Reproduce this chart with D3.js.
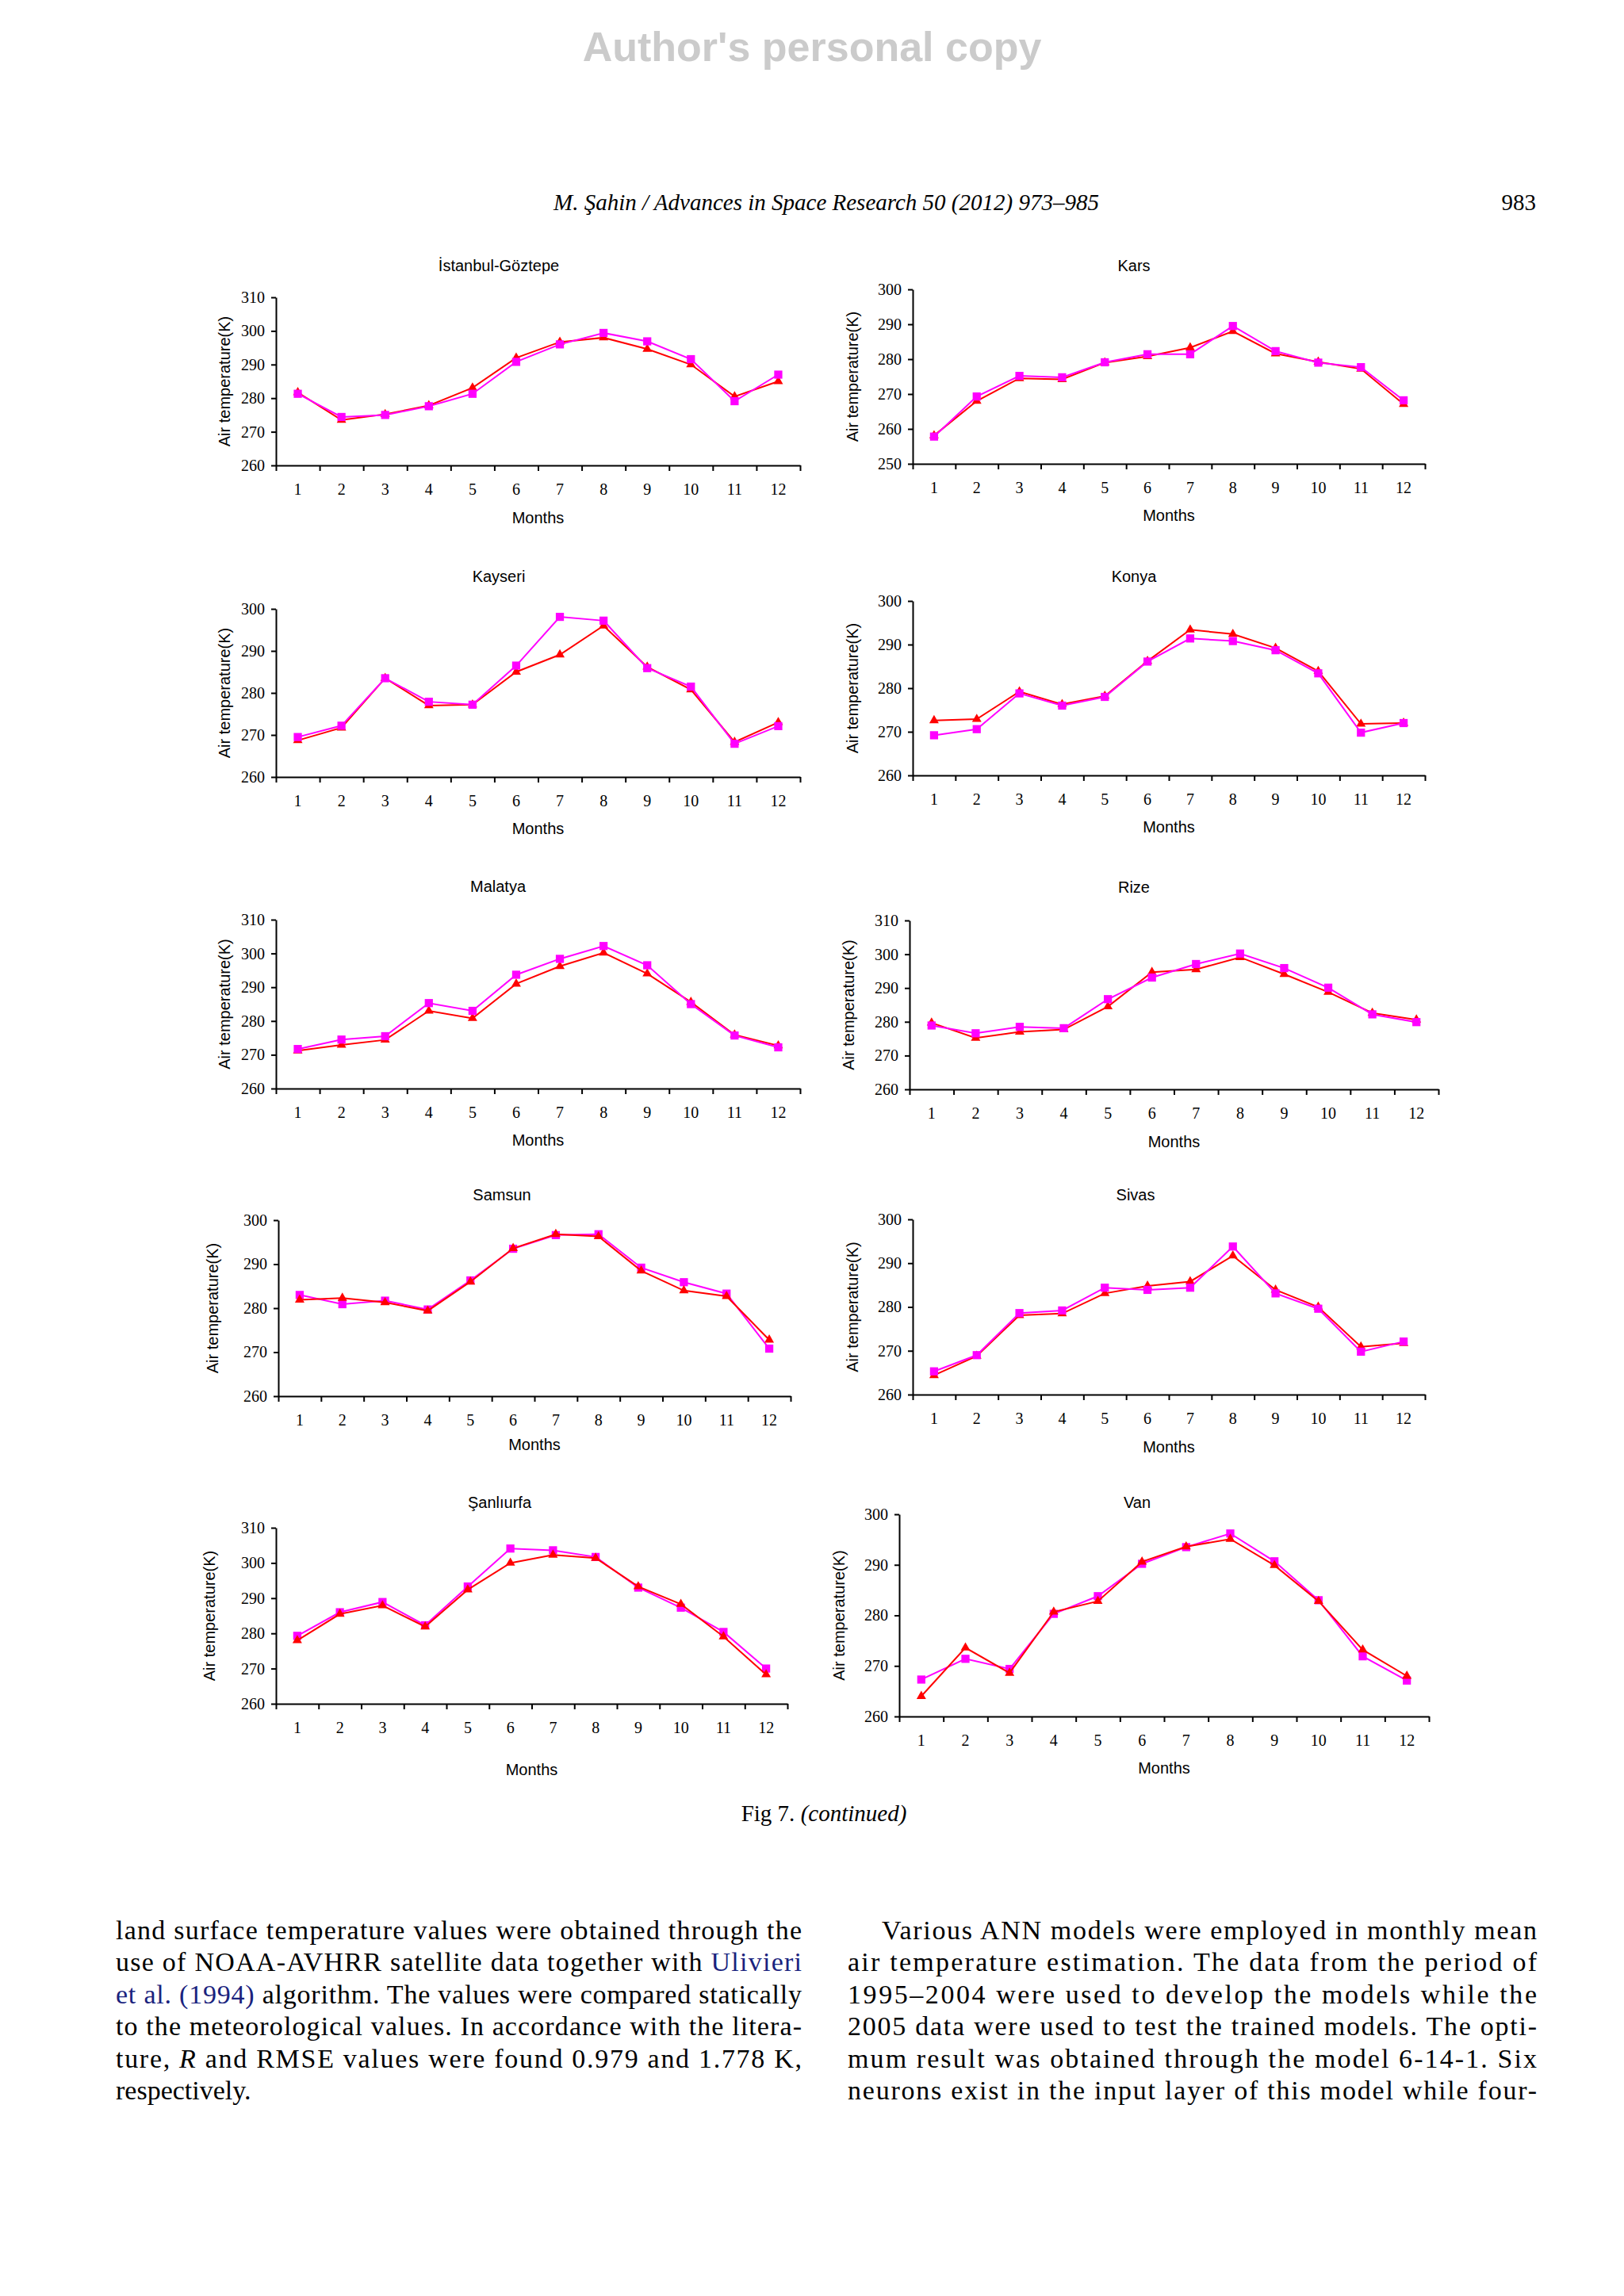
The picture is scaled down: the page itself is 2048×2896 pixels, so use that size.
<!DOCTYPE html>
<html>
<head>
<meta charset="utf-8">
<script src="https://cdn.jsdelivr.net/npm/d3@7"></script>
<style>
  body { margin: 0; background: #fff; }
  .axis path, .axis line { stroke: #000; stroke-width: 2; }
  .axis text { font-family: "Liberation Serif", serif; font-size: 20px; fill: #000; }
  .chartTitle, .axisTitle { font-family: "Liberation Sans", Arial, sans-serif; font-size: 20px; fill: #000; }
  .bodyText { font-family: "Liberation Serif", "Times New Roman", serif; font-size: 34px; fill: #000; }
</style>
</head>
<body>
<script>
//wrap everything in a self-executing anonymous function
(function(){

//months on the x axis
var months = [1, 2, 3, 4, 5, 6, 7, 8, 9, 10, 11, 12];

//station names (panel titles)
var stationNames = ["İstanbul-Göztepe", "Kars", "Kayseri", "Konya", "Malatya",
    "Rize", "Samsun", "Sivas", "Şanlıurfa", "Van"];

//y axis ranges, K
var yDomains = [[260, 310], [250, 300], [260, 300], [260, 300], [260, 310],
    [260, 310], [260, 300], [260, 300], [260, 310], [260, 300]];

//red triangles series
var istanbulRed  = [281.7, 273.5, 275.2, 277.8, 283.1, 292.0, 296.7, 298.0, 294.6, 290.0, 280.5, 285.0];
var karsRed      = [258.1, 268.0, 274.5, 274.2, 279.0, 280.8, 283.3, 288.0, 281.6, 279.2, 277.2, 267.1];
var kayseriRed   = [268.7, 271.7, 283.5, 277.0, 277.2, 285.0, 289.1, 296.0, 286.2, 280.8, 268.3, 273.0];
var konyaRed     = [272.6, 272.9, 279.2, 276.3, 278.2, 286.2, 293.4, 292.4, 289.2, 283.9, 271.8, 272.0];
var malatyaRed   = [271.2, 272.9, 274.4, 283.0, 280.8, 291.0, 296.2, 300.2, 294.0, 285.6, 275.9, 272.7];
var rizeRed      = [279.7, 275.2, 277.0, 277.7, 284.5, 294.7, 295.5, 299.1, 294.1, 288.8, 282.6, 280.6];
var samsunRed    = [281.9, 282.3, 281.3, 279.4, 286.0, 293.6, 296.8, 296.3, 288.5, 284.0, 282.7, 272.8];
var sivasRed     = [264.4, 268.8, 278.1, 278.5, 283.1, 284.8, 285.8, 291.7, 283.9, 280.0, 270.9, 271.7];
var sanliurfaRed = [278.0, 285.5, 287.9, 281.9, 292.4, 300.0, 302.3, 301.4, 293.3, 288.3, 279.1, 268.3];
var vanRed       = [264.0, 273.6, 268.6, 280.7, 282.8, 290.6, 293.6, 295.1, 289.9, 282.8, 273.2, 268.0];

//magenta squares series
var istanbulPink  = [281.3, 274.4, 275.0, 277.6, 281.3, 290.8, 296.0, 299.4, 296.9, 291.6, 279.1, 287.0];
var karsPink      = [257.8, 269.3, 275.2, 274.8, 279.1, 281.4, 281.4, 289.5, 282.3, 279.0, 277.7, 268.2];
var kayseriPink   = [269.5, 272.2, 283.5, 277.9, 277.2, 286.5, 298.1, 297.2, 285.9, 281.5, 267.9, 272.1];
var konyaPink     = [269.2, 270.6, 278.8, 276.0, 278.0, 286.1, 291.4, 290.8, 288.7, 283.4, 269.8, 272.0];
var malatyaPink   = [271.7, 274.5, 275.5, 285.3, 283.0, 293.7, 298.4, 302.2, 296.5, 285.0, 275.7, 272.2];
var rizePink      = [278.9, 276.6, 278.5, 278.1, 286.7, 293.1, 297.1, 300.2, 295.9, 290.1, 282.2, 279.9];
var samsunPink    = [283.0, 280.9, 281.7, 279.7, 286.3, 293.5, 296.6, 296.8, 289.2, 285.9, 283.3, 270.8];
var sivasPink     = [265.3, 269.0, 278.6, 279.2, 284.4, 283.9, 284.4, 293.8, 283.1, 279.6, 269.8, 272.1];
var sanliurfaPink = [279.3, 286.0, 288.9, 282.3, 293.3, 304.1, 303.6, 301.7, 293.0, 287.3, 280.4, 270.0];
var vanPink       = [267.3, 271.4, 269.4, 280.3, 283.8, 290.2, 293.5, 296.2, 290.7, 283.0, 271.9, 267.1];

var redSeries = [istanbulRed, karsRed, kayseriRed, konyaRed, malatyaRed,
    rizeRed, samsunRed, sivasRed, sanliurfaRed, vanRed];
var pinkSeries = [istanbulPink, karsPink, kayseriPink, konyaPink, malatyaPink,
    rizePink, samsunPink, sivasPink, sanliurfaPink, vanPink];

//page text
var leftColumn = [
    [{t: "land surface temperature values were obtained through the"}],
    [{t: "use of NOAA-AVHRR satellite data together with "}, {t: "Ulivieri", link: true}],
    [{t: "et al. (1994)", link: true}, {t: " algorithm. The values were compared statically"}],
    [{t: "to the meteorological values. In accordance with the litera-"}],
    [{t: "ture, "}, {t: "R", it: true}, {t: " and RMSE values were found 0.979 and 1.778 K,"}],
    [{t: "respectively."}]
];
var rightColumn = [
    [{t: "Various ANN models were employed in monthly mean"}],
    [{t: "air temperature estimation. The data from the period of"}],
    [{t: "1995–2004 were used to develop the models while the"}],
    [{t: "2005 data were used to test the trained models. The opti-"}],
    [{t: "mum result was obtained through the model 6-14-1. Six"}],
    [{t: "neurons exist in the input layer of this model while four-"}]
];

//panel frames on the page (plot area edges, title and label centres)
var panelLayout = [
    {left: 348,  right: 1009, top: 375,  bottom: 587,  titleX: 629,  titleY: 335,  labelX: 283,  monthsY: 653,  redTop: false},
    {left: 1151, right: 1797, top: 365,  bottom: 585,  titleX: 1430, titleY: 335,  labelX: 1075, monthsY: 650,  redTop: false},
    {left: 348,  right: 1009, top: 768,  bottom: 980,  titleX: 629,  titleY: 727,  labelX: 283,  monthsY: 1045, redTop: false},
    {left: 1151, right: 1797, top: 758,  bottom: 978,  titleX: 1430, titleY: 727,  labelX: 1075, monthsY: 1043, redTop: false},
    {left: 348,  right: 1009, top: 1160, bottom: 1373, titleX: 628,  titleY: 1118, labelX: 283,  monthsY: 1438, redTop: false},
    {left: 1147, right: 1814, top: 1161, bottom: 1374, titleX: 1430, titleY: 1119, labelX: 1070, monthsY: 1440, redTop: false},
    {left: 351,  right: 997,  top: 1539, bottom: 1761, titleX: 633,  titleY: 1507, labelX: 268,  monthsY: 1822, redTop: true},
    {left: 1151, right: 1797, top: 1538, bottom: 1759, titleX: 1432, titleY: 1507, labelX: 1075, monthsY: 1825, redTop: false},
    {left: 348,  right: 993,  top: 1927, bottom: 2149, titleX: 630,  titleY: 1895, labelX: 264,  monthsY: 2232, redTop: true},
    {left: 1134, right: 1802, top: 1910, bottom: 2165, titleX: 1434, titleY: 1895, labelX: 1058, monthsY: 2230, redTop: true}
];

var RED = "#ff0000",
    PINK = "#ff00ff";

window.onload = setPage();

function setPage(){
    var width = 2048,
        height = 2896;

    var page = d3.select("body")
        .append("svg")
        .attr("width", width)
        .attr("height", height);

    page.append("rect")
        .attr("width", width)
        .attr("height", height)
        .attr("fill", "#fff");

    //watermark
    page.append("text")
        .attr("x", 1024)
        .attr("y", 77)
        .attr("text-anchor", "middle")
        .style("font-family", "'Liberation Sans', Arial, sans-serif")
        .style("font-weight", "bold")
        .style("font-size", "52px")
        .style("fill", "#cbcbcb")
        .text("Author's personal copy");

    //running header
    page.append("text")
        .attr("x", 1042)
        .attr("y", 265)
        .attr("text-anchor", "middle")
        .style("font-family", "'Liberation Serif', serif")
        .style("font-style", "italic")
        .style("font-size", "29px")
        .text("M. Şahin / Advances in Space Research 50 (2012) 973–985");

    page.append("text")
        .attr("x", 1937)
        .attr("y", 265)
        .attr("text-anchor", "end")
        .style("font-family", "'Liberation Serif', serif")
        .style("font-size", "29px")
        .text("983");

    //the ten station charts
    for (var i=0; i<stationNames.length; i++){
        setChart(page, i);
    };

    //caption
    var caption = page.append("text")
        .attr("x", 1039)
        .attr("y", 2297)
        .attr("text-anchor", "middle")
        .style("font-family", "'Liberation Serif', serif")
        .style("font-size", "29px");
    caption.append("tspan").text("Fig 7. ");
    caption.append("tspan").style("font-style", "italic").text("(continued)");

    //body text columns
    setColumn(page, leftColumn, 146, 1011, 146, 2446);
    setColumn(page, rightColumn, 1069, 1938, 1112, 2446);
};

//function to draw one station chart
function setChart(page, i){
    var lay = panelLayout[i];

    var chart = page.append("g")
        .attr("class", "chart");

    //scales
    var xBand = d3.scaleBand()
        .domain(months)
        .range([lay.left, lay.right]);

    var xEdge = d3.scaleLinear()
        .domain([0, months.length])
        .range([lay.left, lay.right]);

    var yScale = d3.scaleLinear()
        .domain(yDomains[i])
        .range([lay.bottom, lay.top]);

    //y axis
    var yAxis = d3.axisLeft(yScale)
        .tickValues(d3.range(yDomains[i][0], yDomains[i][1] + 1, 10))
        .tickSize(6)
        .tickSizeOuter(0)
        .tickPadding(8);

    chart.append("g")
        .attr("class", "axis")
        .attr("transform", "translate(" + lay.left + ",0)")
        .call(yAxis)
        .attr("font-family", null)
        .attr("font-size", null);

    //x axis with ticks between months
    var xTicks = d3.axisBottom(xEdge)
        .tickValues(d3.range(0, months.length + 1))
        .tickSize(7)
        .tickSizeOuter(0)
        .tickFormat("");

    chart.append("g")
        .attr("class", "axis")
        .attr("transform", "translate(0," + lay.bottom + ")")
        .call(xTicks);

    //month labels under the band centres
    var xLabels = d3.axisBottom(xBand)
        .tickSize(0)
        .tickPadding(23);

    var lab = chart.append("g")
        .attr("class", "axis")
        .attr("transform", "translate(0," + lay.bottom + ")")
        .call(xLabels)
        .attr("font-family", null)
        .attr("font-size", null);
    lab.select(".domain").remove();

    //titles
    chart.append("text")
        .attr("class", "chartTitle")
        .attr("x", lay.titleX)
        .attr("y", lay.titleY)
        .attr("dy", "0.35em")
        .attr("text-anchor", "middle")
        .text(stationNames[i]);

    chart.append("text")
        .attr("class", "axisTitle")
        .attr("x", (lay.left + lay.right) / 2)
        .attr("y", lay.monthsY)
        .attr("dy", "0.35em")
        .attr("text-anchor", "middle")
        .text("Months");

    chart.append("text")
        .attr("class", "axisTitle")
        .attr("transform", "translate(" + lay.labelX + "," + (lay.top + lay.bottom) / 2 + ") rotate(-90)")
        .attr("dy", "0.35em")
        .attr("text-anchor", "middle")
        .text("Air temperature(K)");

    //series, the one on top drawn last
    var order = lay.redTop ? ["pink", "red"] : ["red", "pink"];
    order.forEach(function(key){
        if (key == "red"){
            drawSeries(chart, redSeries[i], xBand, yScale, RED, d3.symbolTriangle, 62);
        } else {
            drawSeries(chart, pinkSeries[i], xBand, yScale, PINK, d3.symbolSquare, 105);
        };
    });
};

//function to draw a line with markers
function drawSeries(chart, values, xBand, yScale, color, symbolType, symbolSize){
    var pts = values.map(function(v, k){
        return {m: months[k], v: v};
    });

    var line = d3.line()
        .x(function(d){ return xBand(d.m) + xBand.bandwidth() / 2; })
        .y(function(d){ return yScale(d.v); });

    chart.append("path")
        .datum(pts)
        .attr("d", line)
        .attr("fill", "none")
        .attr("stroke", color)
        .attr("stroke-width", 2);

    var symbol = d3.symbol().type(symbolType).size(symbolSize);

    chart.selectAll(null)
        .data(pts)
        .enter()
        .append("path")
        .attr("d", symbol)
        .attr("transform", function(d){
            return "translate(" + (xBand(d.m) + xBand.bandwidth() / 2) + "," + yScale(d.v) + ")";
        })
        .attr("fill", color);
};

//function to write a justified text column
function setColumn(page, lines, x0, x1, firstX, y0){
    var lead = 40.4;
    lines.forEach(function(parts, k){
        var startX = k == 0 ? firstX : x0;
        var txt = page.append("text")
            .attr("class", "bodyText")
            .attr("x", startX)
            .attr("y", y0 + k * lead);
        parts.forEach(function(p){
            var ts = txt.append("tspan").text(p.t);
            if (p.link) ts.style("fill", "#1a237e");
            if (p.it) ts.style("font-style", "italic");
        });
        //justify every line except a short closing one
        var last = parts.length == 1 && parts[0].t == "respectively.";
        if (!last){
            txt.attr("textLength", x1 - startX)
                .attr("lengthAdjust", "spacing");
        };
    });
};

})();
</script>
</body>
</html>
